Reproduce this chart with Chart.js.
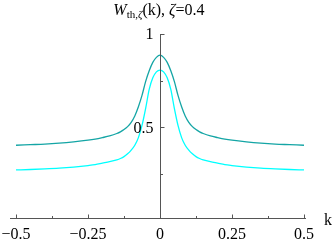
<!DOCTYPE html>
<html>
<head>
<meta charset="utf-8">
<script src="https://cdn.jsdelivr.net/npm/chart.js@4.4.0/dist/chart.umd.min.js"></script>
<style>
html, body { margin: 0; padding: 0; background: #fff; }
#wrap { position: relative; width: 332px; height: 244px; }
#title {
    position: absolute; left: 0; top: 0; width: 318px;
    text-align: center; font-family: "Liberation Serif", serif; font-size: 16px;
    line-height: 19px; color: #000; white-space: nowrap;
}
#title sub { font-size: 11px; vertical-align: -3px; line-height: 0; }
</style>
</head>
<body>
<div id="wrap">
    <canvas id="myChart" width="332" height="244"></canvas>
    <div id="title"><i>W</i><sub>th,<i>ζ</i></sub>(k), <i>ζ</i>=0.4</div>
</div>
<script>
// values (curves are symmetric about k = 0)
const kValues = [-0.5, -0.45, -0.4, -0.35, -0.3, -0.25, -0.225, -0.2, -0.175, -0.15, -0.1375, -0.125, -0.1125, -0.1,
    -0.0875, -0.075, -0.0625, -0.05, -0.0375, -0.025, -0.0125, 0,
    0.0125, 0.025, 0.0375, 0.05, 0.0625, 0.075, 0.0875, 0.1, 0.1125, 0.125, 0.1375, 0.15,
    0.175, 0.2, 0.225, 0.25, 0.3, 0.35, 0.4, 0.45, 0.5]
const wDark = [0.404, 0.407, 0.410, 0.415, 0.422, 0.431, 0.437, 0.445, 0.454, 0.467, 0.476, 0.488, 0.504, 0.527,
    0.561, 0.610, 0.671, 0.745, 0.803, 0.848, 0.875, 0.887,
    0.875, 0.848, 0.803, 0.745, 0.671, 0.610, 0.561, 0.527, 0.504, 0.488, 0.476, 0.467,
    0.454, 0.445, 0.437, 0.431, 0.422, 0.415, 0.410, 0.407, 0.404]
const wLight = [0.272, 0.274, 0.277, 0.281, 0.287, 0.295, 0.300, 0.308, 0.316, 0.326, 0.333, 0.343, 0.358, 0.378,
    0.404, 0.445, 0.510, 0.600, 0.703, 0.765, 0.797, 0.807,
    0.797, 0.765, 0.703, 0.600, 0.510, 0.445, 0.404, 0.378, 0.358, 0.343, 0.333, 0.326,
    0.316, 0.308, 0.300, 0.295, 0.287, 0.281, 0.277, 0.274, 0.272]

const xMajor = [-0.5, -0.25, 0, 0.25, 0.5]
const xMajorLabels = ['\u22120.5', '\u22120.25', '0', '0.25', '0.5']
const xMinor = [-0.375, -0.125, 0.125, 0.375]
const yMajor = [0.5, 1]
const yMajorLabels = ['0.5', '1']
const yMinor = [0.25, 0.75]

const toPoints = ys => kValues.map((k, i) => ({ x: k, y: ys[i] }))

const axesPlugin = {
    id: 'mmaAxes',
    afterDatasetsDraw(chart) {
        const ctx = chart.ctx
        const xs = chart.scales.x
        const ys = chart.scales.y
        const axisY = Math.round(ys.getPixelForValue(ys.min)) + 0.5
        const axisX = Math.round(xs.getPixelForValue(0)) + 0.5
        ctx.save()
        ctx.strokeStyle = '#555'
        ctx.lineWidth = 1
        ctx.beginPath()
        ctx.moveTo(10, axisY)
        ctx.lineTo(306, axisY)
        ctx.moveTo(axisX, Math.round(ys.getPixelForValue(1)))
        ctx.lineTo(axisX, axisY)
        xMajor.forEach(v => {
            const px = Math.round(xs.getPixelForValue(v)) + 0.5
            ctx.moveTo(px, axisY); ctx.lineTo(px, axisY - 4)
        })
        xMinor.forEach(v => {
            const px = Math.round(xs.getPixelForValue(v)) + 0.5
            ctx.moveTo(px, axisY); ctx.lineTo(px, axisY - 2.5)
        })
        yMajor.forEach(v => {
            const py = Math.round(ys.getPixelForValue(v)) + 0.5
            ctx.moveTo(axisX, py); ctx.lineTo(axisX + 4, py)
        })
        yMinor.forEach(v => {
            const py = Math.round(ys.getPixelForValue(v)) + 0.5
            ctx.moveTo(axisX, py); ctx.lineTo(axisX + 2.5, py)
        })
        ctx.stroke()

        ctx.fillStyle = '#000'
        ctx.font = '16px "Liberation Serif"'
        ctx.textAlign = 'center'
        ctx.textBaseline = 'middle'
        xMajor.forEach((v, i) => {
            ctx.fillText(xMajorLabels[i], xs.getPixelForValue(v), 235)
        })
        ctx.textAlign = 'right'
        yMajor.forEach((v, i) => {
            ctx.fillText(yMajorLabels[i], axisX - 7, ys.getPixelForValue(v) + 1)
        })
        ctx.textAlign = 'left'
        ctx.textBaseline = 'alphabetic'
        ctx.fillText('k', 324, 225)
        ctx.restore()
    }
}

new Chart(document.querySelector('#myChart'), {
    type: 'line',
    data: {
        datasets: [{
            data: toPoints(wDark),
            borderColor: 'rgb(20, 165, 165)',
            borderWidth: 1.3,
            pointRadius: 0,
            cubicInterpolationMode: 'monotone',
            fill: false
        }, {
            data: toPoints(wLight),
            borderColor: 'rgb(0, 255, 255)',
            borderWidth: 1.3,
            pointRadius: 0,
            cubicInterpolationMode: 'monotone',
            fill: false
        }]
    },
    options: {
        responsive: false,
        animation: false,
        layout: { padding: { left: 16, right: 28, top: 34, bottom: 26 } },
        plugins: { legend: { display: false }, tooltip: { enabled: false }, title: { display: false } },
        scales: {
            x: { type: 'linear', min: -0.5, max: 0.5, display: false },
            y: { type: 'linear', min: 0.0143, max: 1, display: false }
        }
    },
    plugins: [axesPlugin]
})
</script>
</body>
</html>
